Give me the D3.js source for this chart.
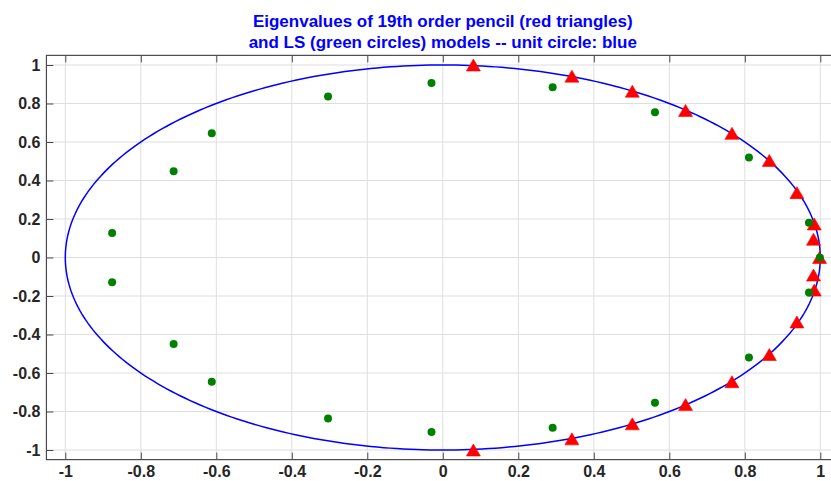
<!DOCTYPE html>
<html>
<head>
<meta charset="utf-8">
<script src="https://cdn.jsdelivr.net/npm/d3@7"></script>
<style>
  html, body { margin: 0; padding: 0; background: #fff; }
  svg { display: block; }
  text { font-family: "Liberation Sans", Arial, Helvetica, sans-serif; }
</style>
</head>
<body>
<script>
// Eigenvalues of the 19th order pencil model (real / imaginary parts)
const pencilRe = [0.081, 0.342, 0.502, 0.643, 0.766, 0.865, 0.938, 0.984, 0.982, 0.998,
                  0.982, 0.984, 0.938, 0.865, 0.766, 0.643, 0.502, 0.342, 0.081];
const pencilIm = [1.000, 0.942, 0.864, 0.764, 0.645, 0.504, 0.337, 0.174, 0.095, 0.000,
                  -0.091, -0.169, -0.335, -0.504, -0.645, -0.764, -0.864, -0.942, -1.000];

// Eigenvalues of the least-squares model
const lsRe = [-0.876, -0.713, -0.612, -0.304, -0.030, 0.291, 0.562, 0.811, 0.970, 0.999,
              0.970, 0.811, 0.562, 0.291, -0.030, -0.304, -0.612, -0.713, -0.876];
const lsIm = [0.127, 0.448, 0.646, 0.836, 0.906, 0.884, 0.754, 0.520, 0.180, 0.000,
              -0.182, -0.520, -0.754, -0.884, -0.906, -0.836, -0.646, -0.449, -0.128];

const xTicks = [-1, -0.8, -0.6, -0.4, -0.2, 0, 0.2, 0.4, 0.6, 0.8, 1];
const yTicks = [-1, -0.8, -0.6, -0.4, -0.2, 0, 0.2, 0.4, 0.6, 0.8, 1];
const xLimits = [-1.05, 1.05];
const yLimits = [-1.05, 1.05];
const titleLines = ["Eigenvalues of 19th order pencil (red triangles)",
                    "and LS (green circles) models -- unit circle: blue"];

const W = 831, H = 481;
const svg = d3.select("body").append("svg").attr("width", W).attr("height", H);

const x = d3.scaleLinear().domain([-1, 1]).range([65.3, 820.3]);
const y = d3.scaleLinear().domain([-1, 1]).range([450, 65]);

const x0 = x(xLimits[0]), x1 = x(xLimits[1]);
const y0 = y(yLimits[1]), y1 = y(yLimits[0]);

const fmt = d => String(+d.toFixed(1));

svg.append("defs").append("clipPath").attr("id", "plotclip")
  .append("rect").attr("x", x0).attr("y", y0).attr("width", x1 - x0).attr("height", y1 - y0);

// grid
const grid = svg.append("g");
grid.selectAll("line.gx").data(xTicks).join("line")
  .attr("x1", d => x(d)).attr("x2", d => x(d)).attr("y1", y0).attr("y2", y1)
  .attr("stroke", "#dedede").attr("stroke-width", 1);
grid.selectAll("line.gy").data(yTicks).join("line")
  .attr("y1", d => y(d)).attr("y2", d => y(d)).attr("x1", x0).attr("x2", x1)
  .attr("stroke", "#dedede").attr("stroke-width", 1);

// unit circle
const theta = d3.range(0, 361).map(a => a * Math.PI / 180);
const plot = svg.append("g").attr("clip-path", "url(#plotclip)");
plot.append("path")
  .datum(theta)
  .attr("d", d3.line().x(t => x(Math.cos(t))).y(t => y(Math.sin(t))))
  .attr("fill", "none").attr("stroke", "#0000ff").attr("stroke-width", 1.5);

// pencil eigenvalues: red triangles
const triW = 14, triH = 12;
plot.selectAll("path.tri").data(pencilRe.map((r, i) => [r, pencilIm[i]])).join("path")
  .attr("class", "tri")
  .attr("d", d => {
    const cx = x(d[0]), cy = y(d[1]);
    return `M${cx},${cy - triH / 2}L${cx + triW / 2},${cy + triH / 2}L${cx - triW / 2},${cy + triH / 2}Z`;
  })
  .attr("fill", "#ff0000").attr("stroke", "#ff0000").attr("stroke-width", 0.6);

// LS eigenvalues: green circles
plot.selectAll("circle.ls").data(lsRe.map((r, i) => [r, lsIm[i]])).join("circle")
  .attr("class", "ls")
  .attr("cx", d => x(d[0])).attr("cy", d => y(d[1])).attr("r", 4)
  .attr("fill", "#008000");

// axes frame and ticks
const axisColor = "#4a4a4a";
const xAxis = d3.axisBottom(x).tickValues(xTicks).tickFormat(fmt).tickSizeInner(-7).tickSizeOuter(0).tickPadding(6);
const yAxis = d3.axisLeft(y).tickValues(yTicks).tickFormat(fmt).tickSizeInner(-7).tickSizeOuter(0).tickPadding(6);
const xTop = d3.axisTop(x).tickValues(xTicks).tickFormat("").tickSizeInner(-7).tickSizeOuter(0);

function styleAxis(g) {
  g.select(".domain").remove();
  g.selectAll(".tick line").attr("stroke", axisColor).attr("stroke-width", 1);
  g.selectAll(".tick text").attr("fill", "#262626").attr("font-size", 16).attr("font-weight", "bold");
}

svg.append("g").attr("transform", `translate(0,${y1})`).call(xAxis).call(styleAxis)
  .selectAll(".tick text").attr("dy", "0.71em");
svg.append("g").attr("transform", `translate(${x0},0)`).call(yAxis).call(styleAxis);
svg.append("g").attr("transform", `translate(0,${y0})`).call(xTop).call(styleAxis);

svg.append("rect").attr("x", x0).attr("y", y0).attr("width", x1 - x0).attr("height", y1 - y0)
  .attr("fill", "none").attr("stroke", axisColor).attr("stroke-width", 1.2);

// title
const title = svg.append("text").attr("text-anchor", "middle")
  .attr("fill", "#0000ff").attr("font-size", 17).attr("font-weight", "bold");
title.selectAll("tspan").data(titleLines).join("tspan")
  .attr("x", (x0 + x1) / 2).attr("y", (d, i) => 27 + i * 21).text(d => d);
</script>
</body>
</html>
